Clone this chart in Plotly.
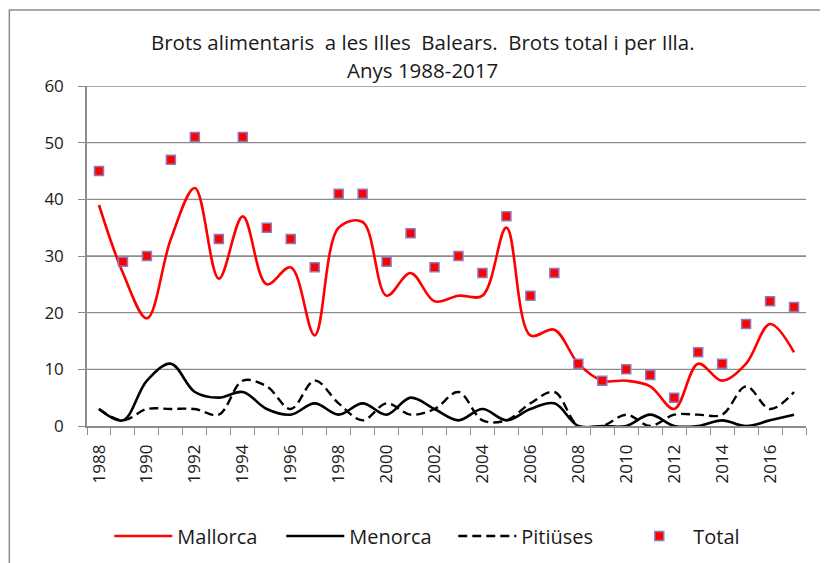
import plotly.graph_objects as go

years = list(range(1988, 2018))
mallorca = [39, 27, 19, 33, 42, 26, 37, 25, 28, 16, 35, 36, 23, 27, 22, 23, 23, 35, 16, 17,
            11, 8, 8, 7, 3, 11, 8, 11, 18, 13]
menorca = [3, 1, 8, 11, 6, 5, 6, 3, 2, 4, 2, 4, 2, 5, 3, 1, 3, 1, 3, 4,
           0, 0, 0, 2, 0, 0, 1, 0, 1, 2]
pitiuses = [3, 1, 3, 3, 3, 2, 8, 7, 3, 8, 4, 1, 4, 2, 3, 6, 1, 1, 4, 6,
            0, 0, 2, 0, 2, 2, 2, 7, 3, 6]
total = [45, 29, 30, 47, 51, 33, 51, 35, 33, 28, 41, 41, 29, 34, 28, 30, 27, 37, 23, 27,
         11, 8, 10, 9, 5, 13, 11, 18, 22, 21]
y_ticks = [0, 10, 20, 30, 40, 50, 60]
xtick_years = list(range(1988, 2017, 2))

FONT = "Open Sans, Liberation Sans, sans-serif"
GRID = "#8c8c8c"
TXT = "#1a1a1a"

x_lo, x_hi = years[0] - 0.5, years[-1] + 0.5

fig = go.Figure()

# gridlines as a background line trace, one segment per y tick
gx, gy = [], []
for v in y_ticks[1:]:
    gx += [x_lo, x_hi, None]
    gy += [v, v, None]
fig.add_trace(go.Scatter(x=gx, y=gy, mode="lines", line=dict(color=GRID, width=1.4),
                         showlegend=False, hoverinfo="skip", connectgaps=False))

fig.add_trace(go.Scatter(x=years, y=mallorca, name="Mallorca", mode="lines",
                         line=dict(color="#ff0000", width=2.6, shape="spline", smoothing=1)))
fig.add_trace(go.Scatter(x=years, y=menorca, name="Menorca", mode="lines",
                         line=dict(color="#000000", width=2.6, shape="spline", smoothing=1)))
fig.add_trace(go.Scatter(x=years, y=pitiuses, name="Pitiüses", mode="lines",
                         line=dict(color="#000000", width=2.4, dash="9px,5px",
                                   shape="spline", smoothing=1)))
fig.add_trace(go.Scatter(x=years, y=total, name="Total", mode="markers",
                         marker=dict(symbol="square", size=9, color="#ff0000",
                                     line=dict(color="#8a7cc0", width=1.5))))

border = dict(type="rect", xref="paper", yref="paper", x0=-0.108, x1=1.2, y0=-0.6, y1=1.2235,
              line=dict(color=GRID, width=1.5), fillcolor="rgba(0,0,0,0)", layer="above")

fig.update_layout(
    template="none",
    width=828, height=563,
    margin=dict(l=79, r=30, t=78, b=145, autoexpand=False),
    paper_bgcolor="white", plot_bgcolor="white",
    font=dict(family=FONT, size=17, color=TXT),
    showlegend=True,
    legend=dict(orientation="h", x=0.031, xanchor="left", y=-0.3235, yanchor="middle",
                font=dict(size=20, family=FONT, color=TXT),
                entrywidth=99, entrywidthmode="pixels", itemwidth=58,
                bgcolor="rgba(0,0,0,0)", borderwidth=0),
    xaxis=dict(range=[x_lo, x_hi], tickmode="array", tickvals=xtick_years,
               ticktext=[str(y) for y in xtick_years], tickangle=-90,
               ticks="outside", ticklen=10, tickcolor="rgba(0,0,0,0)",
               showgrid=False, zeroline=False, showline=True, linecolor=GRID, linewidth=1.5,
               tickfont=dict(size=17, family=FONT, color=TXT), automargin=False,
               minor=dict(tickmode="linear", tick0=x_lo, dtick=1, ticks="outside",
                          ticklen=7, tickcolor=GRID, tickwidth=1.2, showgrid=False)),
    yaxis=dict(range=[0, 60], tickmode="array", tickvals=y_ticks, ticks="outside",
               ticklen=7, tickcolor=GRID,
               showgrid=True, gridcolor=GRID, gridwidth=1.3, zeroline=False,
               showline=True, linecolor=GRID, linewidth=1.5, ticklabelstandoff=11,
               tickfont=dict(size=17, family=FONT, color=TXT), automargin=False),
    annotations=[
        dict(text="Brots alimentaris\u00a0 a les Illes\u00a0 Balears.\u00a0 Brots total i per Illa.",
             xref="paper", yref="paper", x=0.467, y=1.129, xanchor="center", yanchor="middle",
             showarrow=False, font=dict(size=20.5, family=FONT, color=TXT)),
        dict(text="Anys 1988-2017", xref="paper", yref="paper", x=0.467, y=1.047,
             xanchor="center", yanchor="middle", showarrow=False,
             font=dict(size=20.5, family=FONT, color=TXT)),
    ],
    shapes=[border],
)

fig.write_html("out.html")
